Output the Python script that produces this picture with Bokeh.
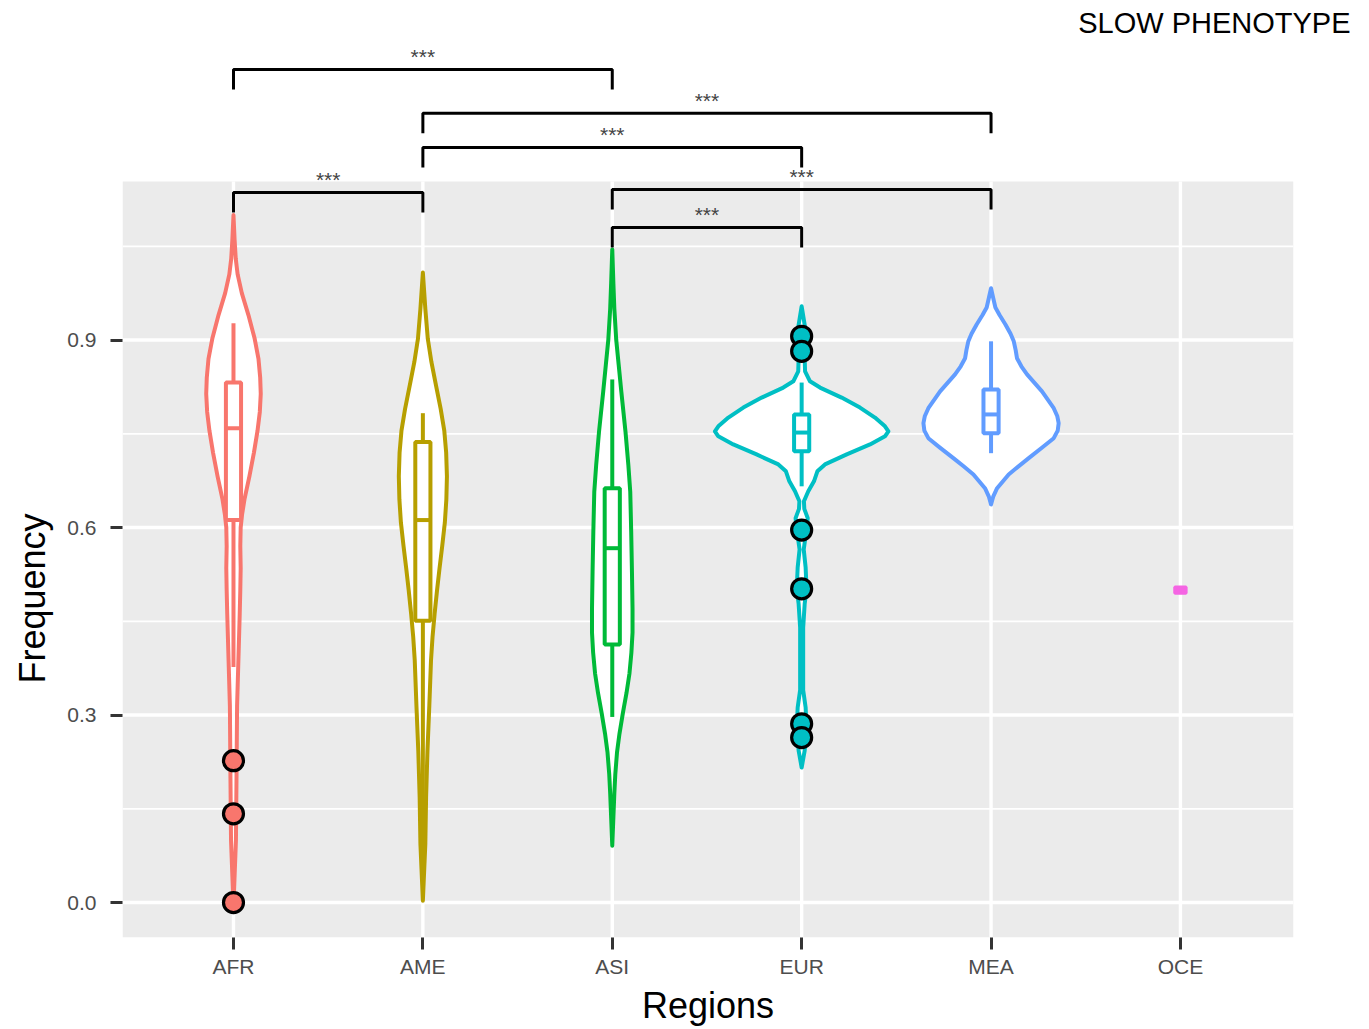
from bokeh.plotting import figure
from bokeh.models import FixedTicker, Title
from bokeh.embed import file_html
from bokeh.resources import INLINE
from bokeh.core.properties import value

# ---------------- data ----------------
regions = ["AFR", "AME", "ASI", "EUR", "MEA", "OCE"]
colors = ["#F8766D", "#B79F00", "#00BA38", "#00BFC4", "#619CFF", "#F564E3"]

# violin outlines: frequency levels and half-widths (category units)
afr_y = [1.100, 1.060, 1.030, 1.005, 0.975, 0.940, 0.902, 0.870, 0.840, 0.814, 0.785, 0.755,
         0.720, 0.682, 0.645, 0.620, 0.600, 0.570, 0.535, 0.500, 0.462, 0.388, 0.315, 0.200,
         0.100, -0.005]
afr_w = [0.000, 0.006, 0.012, 0.022, 0.044, 0.079, 0.112, 0.132, 0.141, 0.144, 0.139, 0.127,
         0.108, 0.084, 0.058, 0.045, 0.038, 0.036, 0.038, 0.036, 0.033, 0.026, 0.019, 0.016,
         0.013, 0.000]
ame_y = [1.008, 0.950, 0.902, 0.865, 0.828, 0.790, 0.755, 0.720, 0.682, 0.645, 0.608, 0.570,
         0.535, 0.500, 0.462, 0.425, 0.388, 0.315, 0.241, 0.168, 0.094, 0.003]
ame_w = [0.000, 0.013, 0.026, 0.045, 0.069, 0.094, 0.113, 0.123, 0.127, 0.124, 0.116, 0.102,
         0.088, 0.075, 0.062, 0.051, 0.043, 0.034, 0.024, 0.017, 0.013, 0.000]
asi_y = [1.045, 0.990, 0.950, 0.900, 0.860, 0.817, 0.753, 0.700, 0.657, 0.593, 0.529, 0.470,
         0.432, 0.400, 0.367, 0.335, 0.303, 0.270, 0.240, 0.205, 0.175, 0.091]
asi_w = [0.000, 0.006, 0.011, 0.021, 0.034, 0.048, 0.070, 0.085, 0.095, 0.100, 0.104, 0.107,
         0.107, 0.101, 0.091, 0.075, 0.056, 0.038, 0.025, 0.016, 0.011, 0.000]
eur_y = [0.954, 0.930, 0.905, 0.870, 0.850, 0.834, 0.824, 0.808, 0.792, 0.776, 0.762, 0.754,
         0.746, 0.733, 0.717, 0.701, 0.690, 0.674, 0.658, 0.642, 0.630, 0.615, 0.598, 0.565,
         0.536, 0.502, 0.478, 0.440, 0.340, 0.312, 0.280, 0.243, 0.216]
eur_w = [0.000, 0.013, 0.026, 0.016, 0.018, 0.044, 0.097, 0.211, 0.308, 0.387, 0.440, 0.458,
         0.440, 0.361, 0.238, 0.123, 0.083, 0.065, 0.035, 0.012, 0.014, 0.032, 0.026, 0.011,
         0.021, 0.026, 0.016, 0.008, 0.008, 0.021, 0.026, 0.016, 0.000]
mea_y = [0.983, 0.968, 0.952, 0.940, 0.925, 0.910, 0.898, 0.884, 0.871, 0.858, 0.845, 0.818,
         0.791, 0.778, 0.767, 0.755, 0.743, 0.728, 0.711, 0.698, 0.685, 0.663, 0.650, 0.637]
mea_w = [0.000, 0.011, 0.023, 0.045, 0.076, 0.103, 0.120, 0.130, 0.137, 0.160, 0.190, 0.269,
         0.331, 0.350, 0.357, 0.352, 0.331, 0.270, 0.199, 0.145, 0.093, 0.032, 0.012, 0.000]

violins = {"AFR": (afr_y, afr_w), "AME": (ame_y, ame_w), "ASI": (asi_y, asi_w),
           "EUR": (eur_y, eur_w), "MEA": (mea_y, mea_w)}

# box stats: lower whisker, q1, median, q3, upper whisker
box_lower = [0.377, 0.050, 0.297, 0.666, 0.719]
box_q1 = [0.612, 0.451, 0.413, 0.722, 0.751]
box_med = [0.759, 0.612, 0.567, 0.752, 0.781]
box_q3 = [0.832, 0.737, 0.663, 0.781, 0.821]
box_upper = [0.927, 0.783, 0.837, 0.832, 0.898]

out_region = ["AFR", "AFR", "AFR", "EUR", "EUR", "EUR", "EUR", "EUR", "EUR"]
out_value = [0.000, 0.142, 0.227, 0.906, 0.882, 0.596, 0.502, 0.286, 0.264]

oce_value = 0.5

comp_a = ["AFR", "AME", "AME", "AFR", "ASI", "ASI"]
comp_b = ["ASI", "MEA", "EUR", "AME", "MEA", "EUR"]
comp_y = [1.333, 1.263, 1.208, 1.136, 1.141, 1.080]
comp_label = ["***"] * 6

y_ticks = [0.0, 0.3, 0.6, 0.9]
y_minor = [0.15, 0.45, 0.75, 1.05]
y_tick_labels = ["0.0", "0.3", "0.6", "0.9"]

title_text = "SLOW PHENOTYPE"
x_title = "Regions"
y_title = "Frequency"

# ---------------- layout ----------------
FONT = "Liberation Sans"
pos = {r: i + 1 for i, r in enumerate(regions)}
col = dict(zip(regions, colors))
x0, x1 = 0.414, 6.597
panel_y0, panel_y1 = -0.0559, 1.1539

p = figure(width=1369, height=1029, output_backend="svg", toolbar_location=None,
           x_range=(x0, x1), y_range=(-0.0559, 1.3713),
           min_border_left=122, min_border_right=76, min_border_top=44, min_border_bottom=92,
           background_fill_color="white", border_fill_color="white")
p.outline_line_color = None
p.xgrid.visible = False
p.ygrid.visible = False

# panel background
p.quad(left=[x0], right=[x1], bottom=[panel_y0], top=[panel_y1],
       fill_color="#EBEBEB", line_color=None)
# grid
p.segment(x0=[x0] * 4, x1=[x1] * 4, y0=y_minor, y1=y_minor,
          line_color="white", line_width=1.8)
p.segment(x0=[x0] * 4, x1=[x1] * 4, y0=y_ticks, y1=y_ticks,
          line_color="white", line_width=3.4)
xs_cat = [pos[r] for r in regions]
p.segment(x0=xs_cat, x1=xs_cat, y0=[panel_y0] * 6, y1=[panel_y1] * 6,
          line_color="white", line_width=3.4)

# violins
vx, vy, vc = [], [], []
for r, (yy, ww) in violins.items():
    c = pos[r]
    vx.append([c + w for w in ww] + [c - w for w in reversed(ww)])
    vy.append(list(yy) + list(reversed(yy)))
    vc.append(col[r])
p.patches(xs=vx, ys=vy, fill_color="white", line_color=vc, line_width=4,
          line_join="round")

# boxplots
bx = [pos[r] for r in regions[:5]]
bc = colors[:5]
bw = 0.04
p.segment(x0=bx, x1=bx, y0=box_q3, y1=box_upper, line_color=bc, line_width=4)
p.segment(x0=bx, x1=bx, y0=box_lower, y1=box_q1, line_color=bc, line_width=4)
p.quad(left=[x - bw for x in bx], right=[x + bw for x in bx], bottom=box_q1, top=box_q3,
       fill_color="white", line_color=bc, line_width=4)
p.segment(x0=[x - bw for x in bx], x1=[x + bw for x in bx], y0=box_med, y1=box_med,
          line_color=bc, line_width=4)

# OCE (single value)
p.rect(x=[pos["OCE"]], y=[oce_value], width=0.06, height=0.01,
       fill_color=col["OCE"], line_color=col["OCE"], line_width=3)

# outliers
p.scatter(x=[pos[r] for r in out_region], y=out_value, size=20,
          fill_color=[col[r] for r in out_region], line_color="black", line_width=3.2)

# significance brackets
tick_len = 0.032
for a, b, y, lab in zip(comp_a, comp_b, comp_y, comp_label):
    xa, xb = pos[a], pos[b]
    p.line(x=[xa, xa, xb, xb], y=[y - tick_len, y, y, y - tick_len],
           line_color="black", line_width=3)
    p.text(x=[(xa + xb) / 2], y=[y + 0.002], text=[lab], text_align="center",
           text_baseline="bottom", text_font=value(FONT), text_font_size="21px",
           text_color="#444444")

# title (top right) and y title
p.add_layout(Title(text=title_text, align="right", offset=-57, standoff=11,
                   text_font=FONT, text_font_size="29px", text_font_style="normal",
                   text_color="black", vertical_align="middle"), "above")
p.add_layout(Title(text=y_title, align="left", offset=254, standoff=21,
                   text_font=FONT, text_font_size="36px", text_font_style="normal",
                   text_color="black", vertical_align="middle"), "left")

# axes
xa_ = p.xaxis[0]
xa_.ticker = FixedTicker(ticks=xs_cat)
xa_.major_label_overrides = {pos[r]: r for r in regions}
ya_ = p.yaxis[0]
ya_.ticker = FixedTicker(ticks=y_ticks)
ya_.major_label_overrides = dict(zip(y_ticks, y_tick_labels))
for ax in (xa_, ya_):
    ax.axis_line_color = None
    ax.minor_tick_line_color = None
    ax.major_tick_in = 0
    ax.major_tick_out = 12
    ax.major_tick_line_width = 3
    ax.major_tick_line_color = "#333333"
    ax.major_label_text_font = FONT
    ax.major_label_text_font_size = "21px"
    ax.major_label_text_color = "#4D4D4D"
xa_.axis_label = x_title
xa_.axis_label_text_font = FONT
xa_.axis_label_text_font_size = "36px"
xa_.axis_label_text_font_style = "normal"
xa_.axis_label_text_color = "black"
xa_.major_label_standoff = 5
xa_.axis_label_standoff = 4
ya_.major_label_standoff = 14

open("out.html", "w").write(file_html(p, INLINE))
